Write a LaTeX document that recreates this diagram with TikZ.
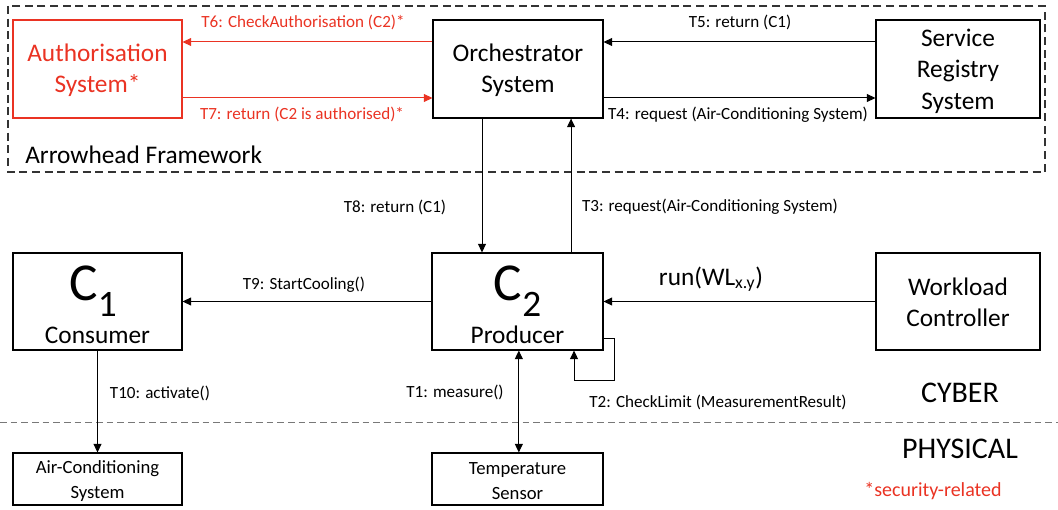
\documentclass[tikz,border=0pt]{standalone}
\usepackage{fontspec}
\setmainfont{Carlito}
\usetikzlibrary{arrows.meta}
\definecolor{secred}{RGB}{234,51,35}
\definecolor{sepgray}{RGB}{120,120,120}
\begin{document}
\begin{tikzpicture}[x=0.75pt,y=-0.75pt,
  box/.style={draw,line width=0.8pt,inner sep=0pt},
  wide/.style={minimum width=126.75pt},
  tall/.style={minimum height=73.5pt},
  short/.style={minimum height=39pt},
  big/.style={font=\fontsize{19}{23.5}\selectfont,align=center,inner sep=0pt},
  mid/.style={font=\fontsize{14}{18.75}\selectfont,align=center,inner sep=0pt},
  lbl/.style={font=\fontsize{12.8}{14}\selectfont,inner sep=0pt},
  cee/.style={inner sep=0pt,font=\fontsize{40}{40}\selectfont},
  arr/.style={line width=0.75pt,-{Triangle[length=6.5pt,width=6pt]}},
  dbl/.style={line width=0.75pt,{Triangle[length=6.5pt,width=6pt]}-{Triangle[length=6.5pt,width=6pt]}},
  frame/.style={draw=black!80,line width=0.8pt,dash pattern=on 6pt off 3.5pt},
  sep/.style={draw=sepgray,line width=0.75pt,dash pattern=on 5pt off 3pt}]
\useasboundingbox (0,0) rectangle (1058,510);
% frame
\draw[frame] (8,6) rectangle (1045,172);
\node[big,anchor=west] (fw) at (25,155) {Arrowhead Framework};
% top boxes
\node[box,wide,tall,draw=secred] (auth) at (97.5,69) {};
\node[big,text=secred] (authT) at (97.5,70) {Authorisation\\System*};
\node[box,minimum width=127.5pt,tall] (orch) at (518,69) {};
\node[big] (orchT) at (518,70) {Orchestrator\\System};
\node[box,minimum width=123pt,tall] (sr) at (958,69) {};
\node[big] (srT) at (958,71) {Service\\Registry\\System};
% middle boxes
\node[box,wide,minimum height=72.75pt] (c1) at (97.5,301.5) {};
\node[cee,anchor=base] (c1C) at (93,300) {C\raisebox{-12.5pt}{\fontsize{28}{28}\selectfont 1}};
\node[big] (c1T) at (97.5,335) {Consumer};
\node[box,minimum width=128.25pt,minimum height=72.75pt] (c2) at (517.5,301.5) {};
\node[cee,anchor=base] (c2C) at (517.5,300) {C\raisebox{-12.5pt}{\fontsize{28}{28}\selectfont 2}};
\node[big] (c2T) at (517.5,335) {Producer};
\node[box,minimum width=123pt,minimum height=72.75pt] (wc) at (958,301.5) {};
\node[big] (wcT) at (958,302) {Workload\\Controller};
% bottom boxes
\node[box,wide,short] (ac) at (97.5,479) {};
\node[mid] (acT) at (97.5,481) {Air-Conditioning\\System};
\node[box,minimum width=128.25pt,short] (ts) at (517.5,479) {};
\node[mid] (tsT) at (517.5,481) {Temperature\\Sensor};
% separator
\draw[sep] (0,422) -- (1058,422);
\node[font=\fontsize{22.5}{24}\selectfont,inner sep=0pt] (cyber) at (960,393) {CYBER};
\node[font=\fontsize{22.5}{24}\selectfont,inner sep=0pt] (phys) at (960,449) {PHYSICAL};
\node[font=\fontsize{15}{16}\selectfont,inner sep=0pt,text=secred] (sec) at (933,491) {*security-related};
% connectors top
\draw[arr,secred] ([yshift=20.25pt]orch.west) -- ([yshift=20.25pt]auth.east);
\node[lbl,text=secred] (t6) at (303,22) {T6: CheckAuthorisation (C2)*};
\draw[arr,secred] ([yshift=-21.75pt]auth.east) -- ([yshift=-21.75pt]orch.west);
\node[lbl,text=secred] (t7) at (302,114) {T7: return (C2 is authorised)*};
\draw[arr] ([yshift=20.25pt]sr.west) -- ([yshift=20.25pt]orch.east);
\node[lbl] (t5) at (740,22) {T5: return (C1)};
\draw[arr] ([yshift=-21.75pt]orch.east) -- ([yshift=-21.75pt]sr.west);
\node[lbl] (t4) at (738,115) {T4: request (Air-Conditioning System)};
% vertical orch <-> c2
\draw[arr] ([xshift=-27pt]orch.south) -- ([xshift=-27pt]orch.south |- c2.north);
\node[lbl] (t8) at (395,207) {T8: return (C1)};
\draw[arr] ([xshift=39.8pt]orch.south |- c2.north) -- ([xshift=39.8pt]orch.south);
\node[lbl] (t3) at (710,207) {T3: request(Air-Conditioning System)};
% middle row
\draw[arr] (c2.west) -- (c1.east);
\node[lbl] (t9) at (304,285) {T9: StartCooling()};
\draw[arr] (wc.west) -- (c2.east);
\node[big] (run) at (711,279) {run(WL\textsubscript{x.y})};
% self loop
\draw[arr] ([yshift=-27.4pt]c2.east) -- ++(11,0) -- ++(0,42) -| ([xshift=42.4pt]c2.south);
\node[lbl] (t2) at (718,402) {T2: CheckLimit (MeasurementResult)};
% down
\draw[dbl] ([xshift=1pt]c2.south) -- ([xshift=1pt]ts.north);
\node[lbl] (t1) at (455,392) {T1: measure()};
\draw[arr] (c1.south) -- (ac.north);
\node[lbl] (t10) at (160,393) {T10: activate()};
\end{tikzpicture}
\end{document}
